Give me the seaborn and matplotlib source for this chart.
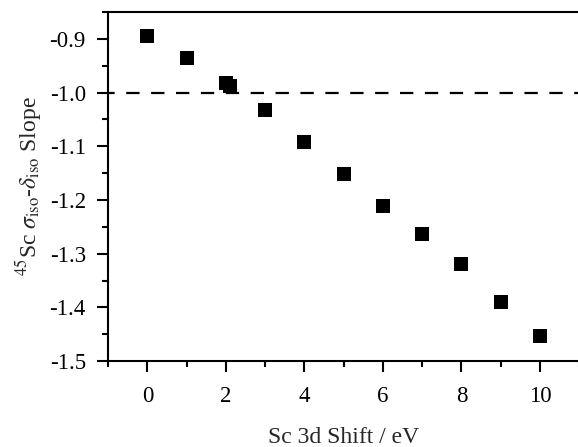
import numpy as np
import pandas as pd
import seaborn as sns
import matplotlib.pyplot as plt
from matplotlib.ticker import MultipleLocator

# values
shift_ev = [0, 1, 2, 2.1, 3, 4, 5, 6, 7, 8, 9, 10]
slope = [-0.895, -0.935, -0.982, -0.987, -1.033, -1.092, -1.151,
         -1.212, -1.264, -1.319, -1.390, -1.454]
x_ticks = [0, 2, 4, 6, 8, 10]
y_ticks = [-1.5, -1.4, -1.3, -1.2, -1.1, -1.0, -0.9]

df = pd.DataFrame({'shift': shift_ev, 'slope': slope})

sns.set_style('ticks')
plt.rcParams['font.family'] = ['Liberation Serif', 'DejaVu Serif']
plt.rcParams['mathtext.fontset'] = 'stix'

fig = plt.figure(figsize=(5.78, 4.47), dpi=100)
ax = fig.add_axes([0.187, 0.192, 0.815, 0.781])

sns.scatterplot(data=df, x='shift', y='slope', marker='s', s=90,
                color='black', edgecolor='black', linewidth=0, ax=ax, zorder=3)
ax.axhline(-1.0, color='black', linestyle=(3, (6, 5.2)), linewidth=1.6, zorder=2)

ax.set_xlim(-1, 11)
ax.set_ylim(-1.5, -0.85)
ax.set_xticks(x_ticks)
ax.set_yticks(y_ticks)
ax.set_yticklabels([f'{v:.1f}' for v in y_ticks])
ax.xaxis.set_minor_locator(MultipleLocator(1))
ax.yaxis.set_minor_locator(MultipleLocator(0.05))

for side in ['left', 'bottom', 'top']:
    ax.spines[side].set_linewidth(1.5)
    ax.spines[side].set_color('black')
ax.spines['right'].set_visible(False)

ax.tick_params(which='major', direction='out', length=8, width=1.5,
               labelsize=16.5, colors='black')
ax.tick_params(axis='y', which='major', pad=8)
ax.tick_params(axis='x', which='major', pad=10)
ax.tick_params(which='minor', direction='out', length=4.5, width=1.5, colors='black')
ax.tick_params(axis='x', top=False)
ax.tick_params(axis='y', right=False)

ax.set_xlabel('Sc 3d Shift / eV', fontsize=17, labelpad=14)
ax.set_ylabel(r'$^{45}$Sc $\sigma_{\mathrm{iso}}$-$\delta_{\mathrm{iso}}$ Slope',
              fontsize=17, labelpad=4)

plt.savefig('out.png', dpi=100)
